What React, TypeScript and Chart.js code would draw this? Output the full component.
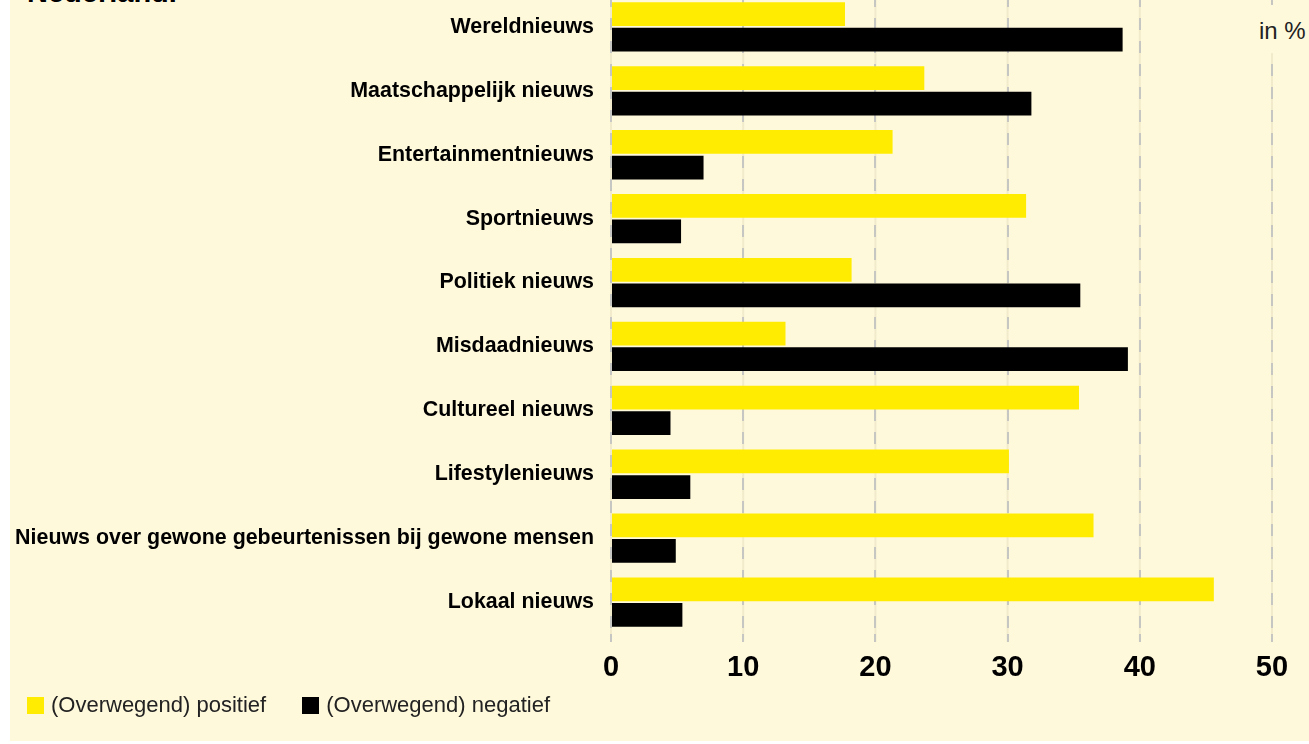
import React, { useEffect, useRef } from "react";
import { Chart, registerables } from "chart.js";

Chart.register(...registerables);

const categories = [
  "Wereldnieuws",
  "Maatschappelijk nieuws",
  "Entertainmentnieuws",
  "Sportnieuws",
  "Politiek nieuws",
  "Misdaadnieuws",
  "Cultureel nieuws",
  "Lifestylenieuws",
  "Nieuws over gewone gebeurtenissen bij gewone mensen",
  "Lokaal nieuws",
];
const positief = [17.7, 23.7, 21.3, 31.4, 18.2, 13.2, 35.4, 30.1, 36.5, 45.6];
const negatief = [38.7, 31.8, 7.0, 5.3, 35.5, 39.1, 4.5, 6.0, 4.9, 5.4];
const seriesLabels = ["(Overwegend) positief", "(Overwegend) negatief"];
const xTicks = [0, 10, 20, 30, 40, 50];
const titleText = "Nederland.";
const unitText = "in %";

const CREAM = "#FFF9DC";
const YELLOW = "#FFEC00";
const BLACK = "#000000";
const FONT = "'Liberation Sans', Arial, Helvetica, sans-serif";

const CANVAS_W = 1299;
const CANVAS_H = 781;

const faintGrid = {
  id: "faintGrid",
  beforeDraw(chart: any) {
    const { ctx, chartArea, scales } = chart;
    const x = scales.x;
    ctx.save();
    ctx.strokeStyle = "rgba(120,110,60,0.10)";
    ctx.lineWidth = 2;
    xTicks.forEach((v) => {
      const px = x.getPixelForValue(v);
      ctx.beginPath();
      ctx.moveTo(px, chartArea.top);
      ctx.lineTo(px, chartArea.bottom + 8);
      ctx.stroke();
    });
    ctx.restore();
  },
};

export default function App() {
  const canvasRef = useRef<HTMLCanvasElement | null>(null);

  useEffect(() => {
    if (!canvasRef.current) return;
    const chart = new Chart(canvasRef.current, {
      type: "bar",
      data: {
        labels: categories,
        datasets: [
          {
            label: seriesLabels[0],
            data: positief,
            backgroundColor: YELLOW,
            borderWidth: 0,
            categoryPercentage: 0.8,
            barPercentage: 0.93,
          },
          {
            label: seriesLabels[1],
            data: negatief,
            backgroundColor: BLACK,
            borderWidth: 0,
            categoryPercentage: 0.8,
            barPercentage: 0.93,
          },
        ],
      },
      options: {
        indexAxis: "y",
        responsive: false,
        animation: false,
        maintainAspectRatio: false,
        layout: { padding: { top: 35, left: 0, right: 37, bottom: 0 } },
        plugins: {
          legend: { display: false },
          tooltip: { enabled: false },
          title: { display: false },
        },
        scales: {
          x: {
            type: "linear",
            position: "bottom",
            min: 0,
            max: 50,
            afterBuildTicks: (scale: any) => {
              scale.ticks = xTicks.map((v) => ({ value: v }));
            },
            afterFit: (scale: any) => {
              scale.height = 107;
            },
            border: { display: false, dash: [12, 11] },
            grid: {
              display: true,
              color: "#C6C6C2",
              lineWidth: 2,
              drawTicks: true,
              tickLength: 8,
              tickColor: "#C6C6C2",
              tickWidth: 2,
              tickBorderDash: [12, 11],
            },
            ticks: {
              color: "#000",
              padding: 9,
              font: { family: FONT, size: 29, weight: "bold" },
            },
          } as any,
          y: {
            type: "category",
            position: "left",
            afterFit: (scale: any) => {
              scale.width = 601;
            },
            border: { display: false },
            grid: { display: false, drawTicks: false },
            ticks: {
              color: "#000",
              padding: 17,
              autoSkip: false,
              font: { family: FONT, size: 21.4, weight: "bold" },
            },
          },
        },
      } as any,
      plugins: [faintGrid],
    });
    return () => chart.destroy();
  }, []);

  return (
    <div
      style={{
        position: "fixed",
        left: 10,
        top: 0,
        width: CANVAS_W,
        height: 741,
        background: CREAM,
        overflow: "hidden",
        fontFamily: FONT,
      }}
    >
      <div
        style={{
          position: "absolute",
          left: 17,
          top: -22,
          fontSize: 29,
          lineHeight: 1,
          fontWeight: "bold",
          color: "#000",
          whiteSpace: "nowrap",
        }}
      >
        {titleText}
      </div>
      <canvas
        ref={canvasRef}
        width={CANVAS_W}
        height={CANVAS_H}
        style={{
          position: "absolute",
          left: 0,
          top: -40,
          width: CANVAS_W,
          height: CANVAS_H,
        }}
      />
      <div
        style={{
          position: "absolute",
          left: 1245,
          top: 5,
          padding: "14px 4px 10px 4px",
          fontSize: 24,
          lineHeight: 1,
          color: "#222",
          background: CREAM,
          whiteSpace: "nowrap",
        }}
      >
        {unitText}
      </div>
      <div
        style={{
          position: "absolute",
          left: 17,
          top: 694,
          height: 22,
          display: "flex",
          alignItems: "center",
          fontSize: 22,
          lineHeight: "22px",
          color: "#222",
          whiteSpace: "nowrap",
        }}
      >
        <span style={{ width: 17, height: 17, background: YELLOW, display: "inline-block", marginRight: 7 }} />
        <span>{seriesLabels[0]}</span>
        <span
          style={{ width: 17, height: 17, background: BLACK, display: "inline-block", marginLeft: 36, marginRight: 7 }}
        />
        <span>{seriesLabels[1]}</span>
      </div>
    </div>
  );
}
